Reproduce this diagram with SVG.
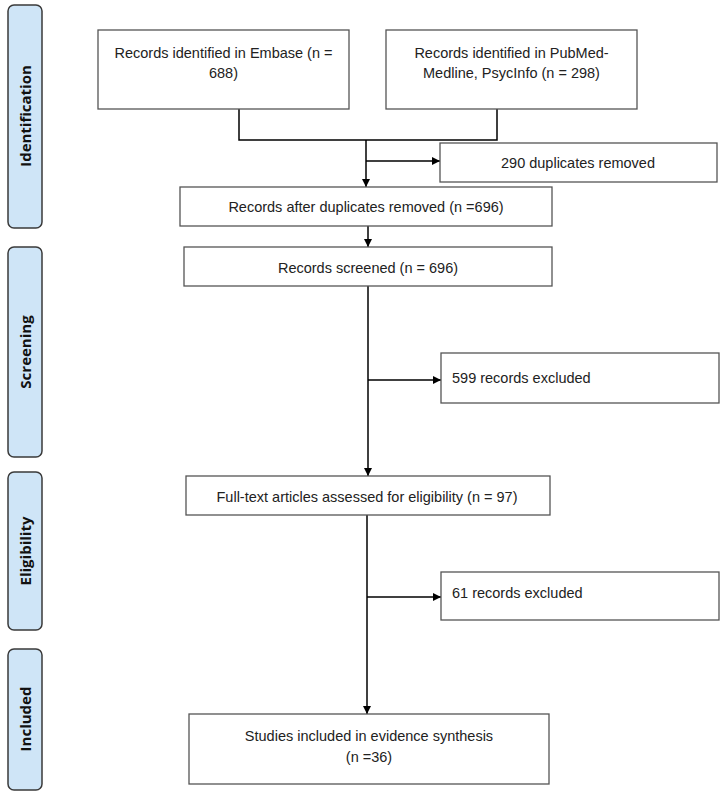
<svg xmlns="http://www.w3.org/2000/svg" width="723" height="800" viewBox="0 0 723 800">
<style>
.stage{fill:#cfe5f7;stroke:#3a3a3a;stroke-width:1.5}
.stxt{font-family:"Open Sans","DejaVu Sans",sans-serif;font-weight:bold;font-size:15px;fill:#111;text-anchor:middle}
.box{fill:#fff;stroke:#555;stroke-width:1.3}
.t{font-family:"Liberation Sans",Arial,sans-serif;font-size:14.5px;fill:#222;text-anchor:middle}
.tl{font-family:"Liberation Sans",Arial,sans-serif;font-size:14.5px;fill:#222;text-anchor:start}
.ln{fill:none;stroke:#000;stroke-width:1.5}
</style>
<defs>
<marker id="ah" viewBox="0 0 10 10" refX="10" refY="5" markerWidth="8" markerHeight="8" markerUnits="userSpaceOnUse" orient="auto">
<path d="M0,0 L10,5 L0,10 Z" fill="#000"/>
</marker>
</defs>
<rect width="723" height="800" fill="#fff"/>
<g id="stage-identification"><rect class="stage" x="8" y="5" width="34" height="223" rx="6"/><text class="stxt" transform="translate(30.5,116) rotate(-90)">Identification</text></g>
<g id="stage-screening"><rect class="stage" x="8" y="247" width="34" height="210" rx="6"/><text class="stxt" transform="translate(30.5,352) rotate(-90)">Screening</text></g>
<g id="stage-eligibility"><rect class="stage" x="8" y="472" width="34" height="158" rx="6"/><text class="stxt" transform="translate(30.5,551) rotate(-90)">Eligibility</text></g>
<g id="stage-included"><rect class="stage" x="8" y="649" width="34" height="141" rx="6"/><text class="stxt" transform="translate(30.5,719) rotate(-90)">Included</text></g>
<g id="connectors">
<path class="ln" d="M239,109 V140 H497 V109"/>
<path class="ln" d="M366,140 V187" marker-end="url(#ah)"/>
<path class="ln" d="M366,161 H440" marker-end="url(#ah)"/>
<path class="ln" d="M368,226 V247" marker-end="url(#ah)"/>
<path class="ln" d="M368,286 V476" marker-end="url(#ah)"/>
<path class="ln" d="M368,380 H441" marker-end="url(#ah)"/>
<path class="ln" d="M367,515 V714" marker-end="url(#ah)"/>
<path class="ln" d="M367,597 H441" marker-end="url(#ah)"/>
</g>
<g id="embase"><rect class="box" x="98" y="30" width="251" height="79"/><text class="t" x="223.5" y="58">Records identified in Embase (n =</text><text class="t" x="223.5" y="78">688)</text></g>
<g id="pubmed"><rect class="box" x="386" y="30" width="251" height="79"/><text class="t" x="511.5" y="58">Records identified in PubMed-</text><text class="t" x="511.5" y="78">Medline, PsycInfo (n = 298)</text></g>
<g id="duplicates"><rect class="box" x="440" y="143" width="277" height="39"/><text class="t" x="578" y="168">290 duplicates removed</text></g>
<g id="after-dup"><rect class="box" x="180" y="187" width="372" height="39"/><text class="t" x="366" y="212">Records after duplicates removed (n =696)</text></g>
<g id="screened"><rect class="box" x="184" y="247" width="368" height="39"/><text class="t" x="368" y="273">Records screened (n = 696)</text></g>
<g id="excluded599"><rect class="box" x="441" y="353" width="278" height="50"/><text class="tl" x="452" y="383">599 records excluded</text></g>
<g id="fulltext"><rect class="box" x="186" y="476" width="364" height="39"/><text class="t" x="367" y="502">Full-text articles assessed for eligibility (n = 97)</text></g>
<g id="excluded61"><rect class="box" x="441" y="572" width="278" height="48"/><text class="tl" x="452" y="598">61 records excluded</text></g>
<g id="included"><rect class="box" x="189" y="714" width="360" height="70"/><text class="t" x="369" y="741">Studies included in evidence synthesis</text><text class="t" x="369" y="762">(n =36)</text></g>
</svg>
